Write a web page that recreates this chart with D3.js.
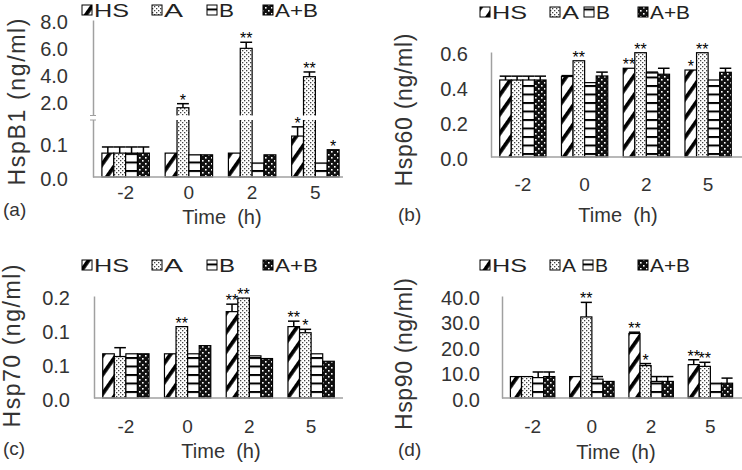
<!DOCTYPE html>
<html>
<head>
<meta charset="utf-8">
<script src="https://cdn.jsdelivr.net/npm/d3@7"></script>
<style>
  body { margin: 0; background: #fff; }
  text { font-family: "Liberation Sans", Arial, sans-serif; fill: #333; }
</style>
</head>
<body>
<svg id="chart"></svg>
<script>
const w = 742;
const h = 470;

const times = ["-2", "0", "2", "5"];
const groups = ["HS", "A", "B", "A+B"];

// one row per group (HS, A, B, A+B), one column per time
const hspB1Mean = [[0.07, 0.07, 0.07, 0.12], [0.07, 1.5, 5.9, 3.8], [0.07, 0.065, 0.041, 0.041], [0.07, 0.065, 0.065, 0.08]];
const hspB1Err = [[0.018, 0, 0, 0.027], [0.018, 0.3, 0.45, 0.35], [0.018, 0, 0, 0], [0.018, 0, 0, 0]];
const hspB1Sig = [["", "", "", "*"], ["", "*", "**", "**"], ["", "", "", ""], ["", "", "", "*"]];
const hspB1Ticks = [0, 0.1, 2, 4, 6, 8];

const hsp60Mean = [[0.44, 0.46, 0.507, 0.497], [0.44, 0.55, 0.596, 0.596], [0.44, 0.425, 0.48, 0.44], [0.44, 0.463, 0.473, 0.484]];
const hsp60Err = [[0.022, 0.005, 0, 0], [0.022, 0, 0, 0], [0.022, 0, 0.005, 0], [0.022, 0.022, 0.034, 0.023]];
const hsp60Sig = [["", "", "**", "*"], ["", "**", "**", "**"], ["", "", "", ""], ["", "", "", ""]];
const hsp60Ticks = [0, 0.2, 0.4, 0.6];

const hsp70Mean = [[0.065, 0.065, 0.127, 0.105], [0.061, 0.105, 0.147, 0.096], [0.065, 0.065, 0.062, 0.065], [0.065, 0.077, 0.058, 0.054]];
const hsp70Err = [[0, 0, 0.011, 0.008], [0.013, 0, 0, 0.005], [0, 0, 0, 0], [0, 0, 0, 0]];
const hsp70Sig = [["", "", "**", "**"], ["", "**", "**", "*"], ["", "", "", ""], ["", "", "", ""]];
const hsp70Ticks = [0, 0.05, 0.1, 0.15];
const hsp70TickLabels = ["0.0", "0.1", "0.1", "0.2"];

const hsp90Mean = [[8.4, 8.4, 25.3, 13.1], [8.4, 31.8, 12.7, 12.4], [8.0, 7.4, 6.5, 5.8], [8.4, 6.5, 6.5, 5.8]];
const hsp90Err = [[0, 0, 0.5, 1.9], [0, 5.7, 0.8, 1.6], [2.2, 1.0, 1.9, 0], [1.8, 0, 1.9, 2.0]];
const hsp90Sig = [["", "", "**", "**"], ["", "**", "*", "**"], ["", "", "", ""], ["", "", "", ""]];
const hsp90Ticks = [0, 10, 20, 30, 40];

const panels = [
  { tag: "(a)", title: "HspB1 (ng/ml)", mean: hspB1Mean, err: hspB1Err, sig: hspB1Sig, ticks: hspB1Ticks,
    yDomain: [0, 0.17, 0.85, 8], yRange: [177, 119, 116.5, 20], breakY: [115.5, 120],
    x0: 94, x1: 347, lineEnd: 343, yPad: 25, xPad: 9,
    titleX: 25, titleY: 102, titleLen: 167, timeX: 222, timeY: 224, tagX: 3, tagY: 216,
    legX: [82, 152, 207, 263], legY: 10, legLen: [35, 19, 15, 43] },
  { tag: "(b)", title: "Hsp60 (ng/ml)", mean: hsp60Mean, err: hsp60Err, sig: hsp60Sig, ticks: hsp60Ticks,
    yDomain: [0, 0.6], yRange: [157, 52],
    x0: 492, x1: 739, lineEnd: 742, yPad: 23, xPad: 21,
    titleX: 412, titleY: 110, titleLen: 153, timeX: 618, timeY: 222, tagX: 398, tagY: 221,
    legX: [480, 550, 584, 638], legY: 12, legLen: [35, 17, 14, 40] },
  { tag: "(c)", title: "Hsp70 (ng/ml)", mean: hsp70Mean, err: hsp70Err, sig: hsp70Sig, ticks: hsp70Ticks, tickLabels: hsp70TickLabels,
    yDomain: [0, 0.15], yRange: [398, 296],
    x0: 95, x1: 342, lineEnd: 343, yPad: 24, xPad: 22,
    titleX: 20, titleY: 346, titleLen: 163, timeX: 221, timeY: 458, tagX: 3, tagY: 455,
    legX: [82, 152, 207, 263], legY: 265, legLen: [35, 19, 16, 43] },
  { tag: "(d)", title: "Hsp90 (ng/ml)", mean: hsp90Mean, err: hsp90Err, sig: hsp90Sig, ticks: hsp90Ticks,
    yDomain: [0, 40], yRange: [398, 296],
    x0: 503, x1: 740, lineEnd: 742, yPad: 22, xPad: 22,
    titleX: 412, titleY: 354, titleLen: 152, timeX: 616, timeY: 459, tagX: 398, tagY: 456,
    legX: [480, 550, 583, 638], legY: 265, legLen: [35, 14, 13, 40] }
];

const svg = d3.select("#chart")
  .attr("width", w)
  .attr("height", h);

// fill patterns for the four groups
const defs = svg.append("defs");

const pHS = defs.append("pattern").attr("id", "p0")
  .attr("patternUnits", "userSpaceOnUse").attr("width", 11).attr("height", 11)
  .attr("patternTransform", "rotate(35)");
pHS.append("rect").attr("width", 11).attr("height", 11).attr("fill", "#fff");
pHS.append("rect").attr("width", 3.8).attr("height", 11).attr("fill", "#000");

const pA = defs.append("pattern").attr("id", "p1")
  .attr("patternUnits", "userSpaceOnUse").attr("width", 4).attr("height", 4);
pA.append("rect").attr("width", 4).attr("height", 4).attr("fill", "#fff");
pA.append("rect").attr("width", 1.3).attr("height", 1.3).attr("fill", "#444");
pA.append("rect").attr("x", 2).attr("y", 2).attr("width", 1.3).attr("height", 1.3).attr("fill", "#444");

const pB = defs.append("pattern").attr("id", "p2")
  .attr("patternUnits", "userSpaceOnUse").attr("width", 8).attr("height", 8.5);
pB.append("rect").attr("width", 8).attr("height", 8.5).attr("fill", "#fff");
pB.append("rect").attr("width", 8).attr("height", 2).attr("fill", "#000");

const pAB = defs.append("pattern").attr("id", "p3")
  .attr("patternUnits", "userSpaceOnUse").attr("width", 6).attr("height", 6);
pAB.append("rect").attr("width", 6).attr("height", 6).attr("fill", "#111");
pAB.append("rect").attr("x", 1).attr("y", 1).attr("width", 1.6).attr("height", 1.6).attr("fill", "#fff");
pAB.append("rect").attr("x", 4).attr("y", 4).attr("width", 1.6).attr("height", 1.6).attr("fill", "#fff");

panels.forEach(function(p) {
  const g = svg.append("g");
  const marks = g.append("g");
  const over = g.append("g");
  const stars = g.append("g");

  const xScale = d3.scaleBand()
    .domain(times)
    .range([p.x0, p.x1])
    .paddingInner(0.25)
    .paddingOuter(0.125);

  const xInner = d3.scaleBand()
    .domain(groups)
    .range([0, xScale.bandwidth()]);

  const yScale = d3.scaleLinear()
    .domain(p.yDomain)
    .range(p.yRange);

  const base = yScale(0);

  groups.forEach(function(grp, gi) {
    const rows = times.map((t, ti) => ({
      t: t, v: p.mean[gi][ti], e: p.err[gi][ti], s: p.sig[gi][ti]
    }));
    const cx = d => xScale(d.t) + xInner(grp) + xInner.bandwidth() / 2;

    marks.append("g").selectAll("rect")
      .data(rows)
      .join("rect")
      .attr("x", d => xScale(d.t) + xInner(grp))
      .attr("y", d => yScale(d.v))
      .attr("width", xInner.bandwidth())
      .attr("height", d => base - yScale(d.v))
      .attr("fill", `url(#p${gi})`)
      .attr("stroke", "#000")
      .attr("stroke-width", 1.2);

    // upper error bars
    const eb = marks.append("g").attr("stroke", "#000").attr("stroke-width", 1.5);
    eb.selectAll("line.v")
      .data(rows.filter(d => d.e > 0))
      .join("line")
      .attr("class", "v")
      .attr("x1", cx).attr("x2", cx)
      .attr("y1", d => yScale(d.v))
      .attr("y2", d => yScale(d.v + d.e));
    eb.selectAll("line.c")
      .data(rows.filter(d => d.e > 0))
      .join("line")
      .attr("class", "c")
      .attr("x1", d => xScale(d.t) + xInner(grp))
      .attr("x2", d => xScale(d.t) + xInner(grp) + xInner.bandwidth())
      .attr("y1", d => yScale(d.v + d.e))
      .attr("y2", d => yScale(d.v + d.e));

    // significance marks
    stars.append("g").selectAll("text")
      .data(rows.filter(d => d.s))
      .join("text")
      .attr("x", cx)
      .attr("y", d => yScale(d.v + d.e) + 2)
      .attr("text-anchor", "middle")
      .style("font-size", "16px")
      .style("fill", "#000")
      .text(d => d.s);
  });

  // axes
  const yAxis = d3.axisLeft(yScale)
    .tickValues(p.ticks)
    .tickSize(0)
    .tickPadding(p.yPad)
    .tickFormat((d, i) => p.tickLabels ? p.tickLabels[i] : d3.format(".1f")(d));

  const yG = over.append("g")
    .attr("transform", `translate(${p.x0 - 1}, 0)`)
    .call(yAxis);
  yG.select(".domain").attr("stroke", "#a0a0a0").attr("stroke-width", 1.5);
  yG.selectAll(".tick text").attr("dy", "0.42em").style("font-size", "20px").attr("fill", "#333");

  const xAxis = d3.axisBottom(xScale)
    .tickSize(0)
    .tickPadding(p.xPad);

  const xG = over.append("g")
    .attr("transform", `translate(0, ${base})`)
    .call(xAxis);
  xG.select(".domain").remove();
  xG.append("line")
    .attr("x1", p.x0 - 1).attr("x2", p.lineEnd)
    .attr("stroke", "#a0a0a0").attr("stroke-width", 1.5);
  xG.selectAll(".tick text").style("font-size", "19px").attr("fill", "#333");

  // axis break
  if (p.breakY) {
    over.append("rect")
      .attr("x", p.x0 - 4).attr("width", p.x1 - p.x0 + 4)
      .attr("y", p.breakY[0]).attr("height", p.breakY[1] - p.breakY[0])
      .attr("fill", "#fff");
    over.append("g").attr("stroke", "#a0a0a0").attr("stroke-width", 1)
      .selectAll("line").data(p.breakY).join("line")
      .attr("x1", p.x0 - 4).attr("x2", p.x0 + 2)
      .attr("y1", d => d).attr("y2", d => d);
  }

  // titles
  g.append("text")
    .attr("transform", `translate(${p.titleX}, ${p.titleY}) rotate(-90)`)
    .attr("text-anchor", "middle")
    .attr("textLength", p.titleLen)
    .style("font-size", "23px")
    .text(p.title);

  g.append("text")
    .attr("x", p.timeX).attr("y", p.timeY)
    .attr("text-anchor", "middle")
    .style("font-size", "20px")
    .style("white-space", "pre")
    .text("Time  (h)");

  g.append("text")
    .attr("x", p.tagX).attr("y", p.tagY)
    .style("font-size", "19px")
    .text(p.tag);

  // legend
  const leg = g.append("g");
  groups.forEach(function(grp, gi) {
    leg.append("rect")
      .attr("x", p.legX[gi]).attr("y", p.legY - 5)
      .attr("width", 10).attr("height", 10)
      .attr("fill", `url(#p${gi})`)
      .attr("stroke", "#000").attr("stroke-width", 1);
    leg.append("text")
      .attr("x", p.legX[gi] + 12).attr("y", p.legY + 6.5)
      .attr("textLength", p.legLen[gi])
      .attr("lengthAdjust", "spacingAndGlyphs")
      .style("font-size", "18px")
      .style("fill", "#222")
      .text(grp);
  });
});
</script>
</body>
</html>
